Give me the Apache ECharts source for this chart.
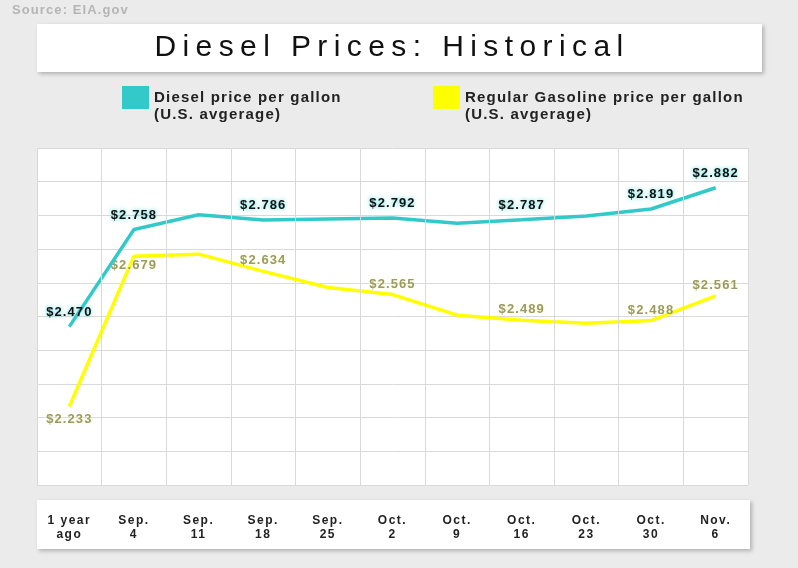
<!DOCTYPE html>
<html><head><meta charset="utf-8">
<script src="https://cdn.jsdelivr.net/npm/echarts@6/dist/echarts.min.js"></script>
<style>html,body{margin:0;padding:0;background:#ebebeb}#c{width:798px;height:568px}</style>
</head><body><div id="c"></div>
<script>
// ---- data ----
const categories = ['1 year\nago','Sep.\n4','Sep.\n11','Sep.\n18','Sep.\n25','Oct.\n2','Oct.\n9','Oct.\n16','Oct.\n23','Oct.\n30','Nov.\n6'];
const dieselPrices   = [2.470, 2.758, 2.802, 2.786, 2.789, 2.792, 2.777, 2.787, 2.798, 2.819, 2.882];
const gasolinePrices = [2.233, 2.679, 2.685, 2.634, 2.586, 2.565, 2.504, 2.489, 2.480, 2.488, 2.561];
const labeledPoints  = [0, 1, 3, 5, 7, 9, 10];
const dieselName = 'Diesel price per gallon';
const gasName = 'Regular Gasoline price per gallon';
const legendSuffix = '(U.S. avgerage)';
const titleText = 'Diesel Prices: Historical';
const sourceText = 'Source: EIA.gov';
const yMin = 2.0, yMax = 3.0, yStep = 0.1;

// ---- letter spacing by font size (canvas) ----
const SPACING = {30: 6.4, 15: 1.2, 13: 1.1, 12: 1.5};
(function(){
  const P = CanvasRenderingContext2D.prototype;
  const orig = P.fillText;
  P.fillText = function(t, x, y, m){
    const mm = /(\d+(?:\.\d+)?)px/.exec(this.font);
    const s = mm ? SPACING[Math.round(+mm[1])] : undefined;
    if (s != null && 'letterSpacing' in this) {
      const prev = this.letterSpacing;
      this.letterSpacing = s + 'px';
      m === undefined ? orig.call(this, t, x, y) : orig.call(this, t, x, y, m);
      this.letterSpacing = prev;
    } else {
      m === undefined ? orig.call(this, t, x, y) : orig.call(this, t, x, y, m);
    }
  };
})();

const FF = '"Liberation Sans", Arial, sans-serif';
const TEAL = '#33c9c9', YELLOW = '#ffff00';

function mkData(vals, isGas){
  return vals.map((v, i) => {
    const show = labeledPoints.indexOf(i) >= 0;
    let pos = 'top', dist = 8;
    if (isGas) {
      if (i === 0) { pos = 'bottom'; dist = 6; }
      else if (i === 1) { pos = 'bottom'; dist = 3; }
      else { dist = 4; }
    }
    return {value: v, label: {show: show, position: pos, distance: dist}};
  });
}

function legendFor(name, left){
  return {left: left, top: 72, padding: 0, selectedMode: false, data: [name], icon: 'rect',
    itemWidth: 27, itemHeight: 23, itemGap: 0,
    formatter: n => '\n' + n + '\n' + legendSuffix,
    textStyle: {fontSize: 15, fontWeight: 'bold', fontFamily: FF, color: '#222', lineHeight: 17}};
}

const chart = echarts.init(document.getElementById('c'), null, {renderer: 'canvas'});
chart.setOption({
  backgroundColor: '#ebebeb',
  animation: false,
  graphic: [
    {type: 'text', x: 12, y: 4, z: 10, style: {text: sourceText, fontSize: 13, fontWeight: 'bold', fontFamily: FF, fill: '#b5b5b5'}},
    {type: 'rect', z: 1, shape: {x: 37, y: 24, width: 725, height: 48}, style: {fill: '#fff', shadowBlur: 4, shadowOffsetX: 2, shadowOffsetY: 2, shadowColor: 'rgba(0,0,0,0.25)'}},
    {type: 'text', z: 10, x: 392, y: 48, style: {text: titleText, fontSize: 30, fontFamily: FF, fill: '#111', align: 'center', verticalAlign: 'middle', textAlign: 'center', textVerticalAlign: 'middle'}},
    {type: 'rect', z: -5, shape: {x: 37, y: 500, width: 713, height: 49}, style: {fill: '#fff', shadowBlur: 4, shadowOffsetX: 2, shadowOffsetY: 2, shadowColor: 'rgba(0,0,0,0.25)'}}
  ],
  legend: [legendFor(dieselName, 122), legendFor(gasName, 433)],
  grid: {left: 37, right: 50, top: 148, bottom: 83, show: true, backgroundColor: '#fff', borderWidth: 0},
  xAxis: {
    type: 'category', data: categories, boundaryGap: true, z: 5,
    axisLine: {show: false}, axisTick: {show: false},
    splitLine: {show: true, lineStyle: {color: '#d9d9d9', width: 1}},
    axisLabel: {interval: 0, margin: 29, lineHeight: 14, fontSize: 12, fontWeight: 'bold', fontFamily: FF, color: '#222'}
  },
  yAxis: {
    type: 'value', min: yMin, max: yMax, interval: yStep,
    axisLine: {show: false}, axisTick: {show: false}, axisLabel: {show: false},
    splitLine: {show: true, lineStyle: {color: '#d9d9d9', width: 1}}
  },
  series: [
    {name: dieselName, type: 'line', data: mkData(dieselPrices, false), color: TEAL,
     symbol: 'circle', symbolSize: 0.1, itemStyle: {color: TEAL},
     lineStyle: {color: TEAL, width: 3.5}, z: 3,
     label: {formatter: p => '$' + p.value.toFixed(3), fontSize: 13, fontWeight: 'bold', fontFamily: FF, color: '#111',
             textShadowColor: 'rgba(60,215,215,0.9)', textShadowBlur: 4}},
    {name: gasName, type: 'line', data: mkData(gasolinePrices, true), color: YELLOW,
     symbol: 'circle', symbolSize: 0.1, itemStyle: {color: YELLOW},
     lineStyle: {color: YELLOW, width: 3.5}, z: 2,
     label: {formatter: p => '$' + p.value.toFixed(3), fontSize: 13, fontWeight: 'bold', fontFamily: FF, color: '#9a9a66',
             textShadowColor: 'rgba(255,255,200,0.9)', textShadowBlur: 3}}
  ]
});
</script></body></html>
